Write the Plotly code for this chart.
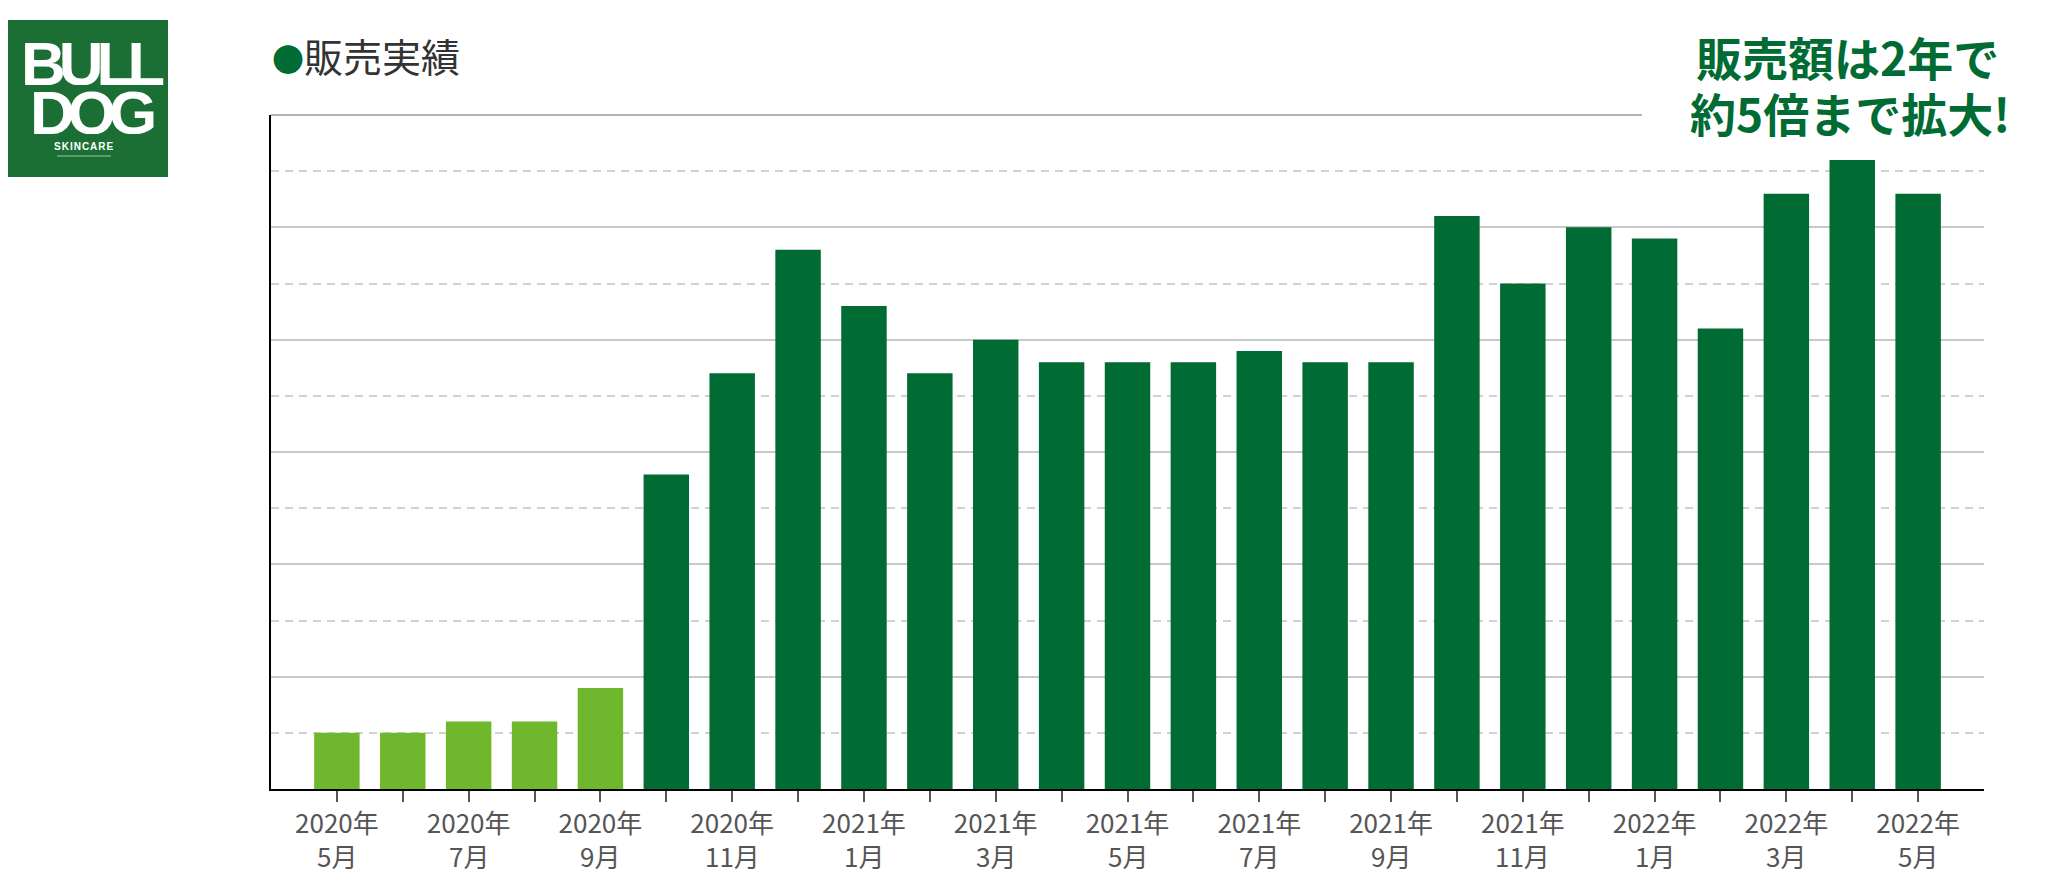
import plotly.graph_objects as go

# ---- data ----
months = ["2020年5月", "2020年6月", "2020年7月", "2020年8月", "2020年9月",
          "2020年10月", "2020年11月", "2020年12月", "2021年1月", "2021年2月",
          "2021年3月", "2021年4月", "2021年5月", "2021年6月", "2021年7月",
          "2021年8月", "2021年9月", "2021年10月", "2021年11月", "2021年12月",
          "2022年1月", "2022年2月", "2022年3月", "2022年4月", "2022年5月"]
sales = [1.0, 1.0, 1.2, 1.2, 1.8,
         5.6, 7.4, 9.6, 8.6, 7.4,
         8.0, 7.6, 7.6, 7.6, 7.8,
         7.6, 7.6, 10.2, 9.0, 10.0,
         9.8, 8.2, 10.6, 11.2, 10.6]
# tick labels (first line: year, second line: month); empty = unlabeled tick
tick_years = ["2020年", "", "2020年", "", "2020年",
              "", "2020年", "", "2021年", "",
              "2021年", "", "2021年", "", "2021年",
              "", "2021年", "", "2021年", "",
              "2022年", "", "2022年", "", "2022年"]
tick_months = ["5月", "", "7月", "", "9月",
               "", "11月", "", "1月", "",
               "3月", "", "5月", "", "7月",
               "", "9月", "", "11月", "",
               "1月", "", "3月", "", "5月"]
n_early = 5  # months before growth (light green)

LIGHT = "#6fb82e"
DARK = "#006b33"
LOGO = "#1c6f34"
TICK = "#555555"
colors = [LIGHT if i < n_early else DARK for i in range(len(months))]

OFF = 8  # page body margin
W, H = 2064 - 2 * OFF, 890 - 2 * OFF
# plot area in page pixels
PL, PR, PT, PB = 271, 1984, 115, 789
L = PL - OFF
R = W - (PR - OFF)
T = PT - OFF
B = H - (PB - OFF)
PW, PH = W - L - R, H - T - B


def px(x):  # page pixel -> paper x
    return (x - OFF - L) / PW


def py(y):  # page pixel -> paper y
    return (H - B - (y - OFF)) / PH


fig = go.Figure(go.Bar(
    x=months, y=sales, marker=dict(color=colors, line=dict(width=0)),
    hoverinfo="x+y",
))

CJK = "Noto Sans CJK JP"

fig.update_layout(
    width=W, height=H,
    margin=dict(l=L, r=R, t=T, b=B, pad=0, autoexpand=False),
    paper_bgcolor="white", plot_bgcolor="white",
    bargap=0.31,
    showlegend=False,
    font=dict(family=CJK),
    xaxis=dict(
        type="category", automargin=False,
        categoryorder="array", categoryarray=months,
        range=[-1, len(months)],
        tickmode="array", tickvals=months, ticktext=tick_years,
        ticks="outside", ticklen=11, tickwidth=2, tickcolor=TICK,
        ticklabelstandoff=0,
        tickfont=dict(family=CJK, size=26, color=TICK),
        showline=True, linecolor="black", linewidth=2,
        showgrid=False, zeroline=False,
    ),
    yaxis=dict(
        automargin=False,
        range=[0, 12],
        tickmode="linear", tick0=0, dtick=2,
        showticklabels=False, ticks="",
        showline=True, linecolor="black", linewidth=2,
        showgrid=True, gridcolor="#c8c8c8", gridwidth=1.5,
        zeroline=False,
        minor=dict(dtick=1, tick0=0, showgrid=True, gridcolor="#d0d0d0",
                   gridwidth=1.5, griddash="8px,6px"),
    ),
)

shapes = [
    # top border of the plot (stops before headline)
    dict(type="line", xref="paper", yref="paper", x0=0, x1=px(1642), y0=1, y1=1,
         line=dict(color="#9a9a9a", width=1.5)),
    # logo box
    dict(type="rect", xref="paper", yref="paper", x0=px(0), x1=px(168),
         y0=py(177), y1=py(20), fillcolor=LOGO, line=dict(width=0), layer="above"),
    # logo underline
    dict(type="line", xref="paper", yref="paper", x0=px(57), x1=px(111),
         y0=py(156), y1=py(156), line=dict(color="#9cc3a6", width=1), layer="above"),
]

LOGO_FONT = "Liberation Sans"
annotations = [
    # title
    dict(text="<span style='font-size:32px;color:%s'>●</span>販売実績" % DARK,
         xref="paper", yref="paper", x=px(270), y=py(55), xanchor="left", yanchor="middle",
         showarrow=False, font=dict(family=CJK, size=39, color="#333333")),
    # headline (two lines)
    dict(text="販売額は2年で",
         xref="paper", yref="paper", x=px(1847), y=py(56), xanchor="center", yanchor="middle",
         showarrow=False,
         font=dict(family=CJK, size=46, color=DARK, weight="bold")),
    dict(text="約5倍まで拡大!",
         xref="paper", yref="paper", x=px(1850), y=py(112), xanchor="center", yanchor="middle",
         showarrow=False,
         font=dict(family=CJK, size=46, color=DARK, weight="bold")),
    # logo text
    dict(text="<span style='letter-spacing:-7px'><b>BULL</b></span>", xref="paper", yref="paper",
         x=px(92), y=py(63), xanchor="center", yanchor="middle", showarrow=False,
         height=44, valign="middle",
         font=dict(family=LOGO_FONT, size=62, color="white")),
    dict(text="<span style='letter-spacing:-7px'><b>DOG</b></span>", xref="paper", yref="paper",
         x=px(92), y=py(112), xanchor="center", yanchor="middle", showarrow=False,
         height=44, valign="middle",
         font=dict(family=LOGO_FONT, size=62, color="white")),
    dict(text="<span style='letter-spacing:1px'><b>SKINCARE</b></span>", xref="paper", yref="paper",
         x=px(84), y=py(146), xanchor="center", yanchor="middle", showarrow=False,
         font=dict(family="Liberation Sans", size=10, color="white")),
]

# second line of the x tick labels (month), placed on the category axis
for m, lab in zip(months, tick_months):
    if lab:
        annotations.append(dict(
            text=lab, xref="x", yref="paper", x=m, y=py(855),
            xanchor="center", yanchor="middle", showarrow=False,
            font=dict(family=CJK, size=26, color=TICK)))

fig.update_layout(shapes=shapes, annotations=annotations)

fig.write_html("out.html")
